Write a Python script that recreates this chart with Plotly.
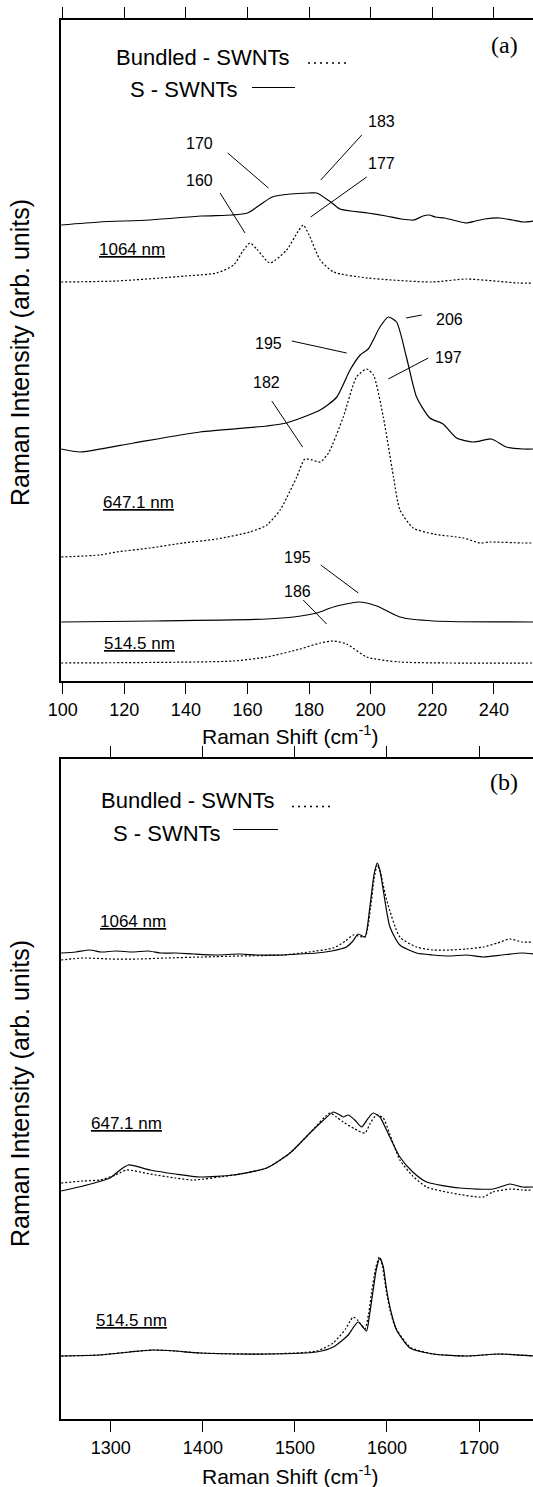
import plotly.graph_objects as go

W, H = 533, 1487

# ---------------- Panel (a): RBM region ----------------
a_x_ticks = [100, 120, 140, 160, 180, 200, 220, 240]

a1064_s_x = [99.5, 112, 128, 145, 155, 160, 164, 168, 174, 180, 182.5, 187, 190, 199, 205, 210, 214, 217, 219, 221, 224, 228, 231, 234, 237, 242, 246, 249.5, 253]
a1064_s_y = [456, 459, 461, 465, 466, 468, 476, 484, 487, 488, 488, 479, 472, 468, 465, 462, 461, 465, 466, 464, 463, 460, 458, 460, 462, 463, 461, 459, 460]

a1064_d_x = [99.5, 117.5, 140, 150, 155.5, 158.5, 160.8, 163, 167.3, 172.7, 176.5, 178.1, 180, 183.6, 188, 199, 220, 231, 248, 253]
a1064_d_y = [399, 400, 405, 408, 416, 430, 438, 432, 418, 431, 450, 456, 446, 421, 409, 403, 399, 402, 398, 398]

a647_s_x = [99.5, 105.7, 123, 144.6, 166.3, 172.7, 183.6, 189, 193.3, 196.6, 199.2, 203, 205.7, 208.4, 211.6, 214.9, 219.2, 223.5, 227.9, 233.3, 239.2, 244.1, 249.4, 253]
a647_s_y = [232, 229, 238, 249, 255, 258, 271, 284, 311, 326, 332, 354, 364, 359, 324, 284, 263, 257, 243, 239, 242, 234, 232, 232]

a647_d_x = [99.5, 112, 117.5, 128.3, 139.1, 150, 160.8, 166.3, 170.6, 172.7, 176, 178.6, 181, 183.6, 186.3, 191.1, 195.4, 198.7, 200.9, 204.1, 207.4, 209.5, 213.8, 220.4, 230.1, 235.5, 238.7, 249.4, 253]
a647_d_y = [124, 126, 129, 133, 138, 142, 149, 156, 171, 183, 204, 222, 221, 219, 228, 264, 304, 312, 306, 264, 204, 171, 153, 147, 143, 138, 139, 138, 138]

a514_s_x = [99.5, 130, 166.3, 175, 182.5, 187.9, 196.1, 202, 209.5, 220.4, 253]
a514_s_y = [59, 60, 62, 64, 68, 74, 79, 75, 64, 60, 59]

a514_d_x = [99.5, 155.4, 166.3, 177.1, 183.6, 187.9, 192.2, 198.7, 209.5, 253]
a514_d_y = [18, 20, 24, 32, 38, 40, 37, 24, 19, 18]

# peak labels (a): text, text position, leader line ends
a_peak_text = ["170", "183", "160", "177", "206", "195", "197", "182", "195", "186"]
a_peak_tx = [144.3, 203.6, 144.4, 203.6, 225.7, 166.8, 225.2, 166.2, 176.3, 176.3]
a_peak_ty = [538, 560, 501, 518, 362, 338, 324, 299, 124, 90]
a_lead_x0 = [153.6, 197.1, 151.1, 198.7, 211.5, 174.4, 218.7, 167.9, 183.8, 178.1]
a_lead_y0 = [528, 546, 488, 504, 363, 340, 323, 280, 116, 81]
a_lead_x1 = [166.8, 183.8, 159.2, 180.5, 216.6, 192.2, 205.7, 177.9, 196.0, 185.7]
a_lead_y1 = [493, 501, 448, 464, 366, 328, 302, 234, 88, 57]

# laser lines (a)
a_laser_text = ["1064 nm", "647.1 nm", "514.5 nm"]
a_laser_x = [122.6, 124.5, 124.8]
a_laser_y = [432, 179, 38]

# ---------------- Panel (b): G band region ----------------
b_x_ticks = [1300, 1400, 1500, 1600, 1700]

b1064_s_x = [1246, 1262, 1277, 1290, 1305, 1324, 1340, 1355, 1371, 1390, 1415, 1440, 1460, 1487, 1505, 1523.5, 1540, 1556, 1563, 1568.7, 1576, 1581.4, 1586, 1589.4, 1592.5, 1595.9, 1603.2, 1614, 1632, 1650, 1668, 1686, 1704.5, 1725, 1747, 1759]
b1064_s_y = [466, 467, 469, 467, 468, 467, 468, 466, 466, 465, 464, 465, 464, 464, 465, 466, 468, 472, 478, 485, 482, 512, 545, 556, 548, 529, 492, 474, 466, 464, 463, 464, 462, 464, 466, 465]

b1064_d_x = [1246, 1270, 1300, 1330, 1360, 1400, 1440, 1487, 1515, 1541.6, 1555, 1563.3, 1576, 1582, 1586, 1589.4, 1593, 1599.6, 1614, 1632, 1650, 1668, 1686, 1704.5, 1720, 1733.4, 1747, 1759]
b1064_d_y = [459, 461, 460, 460, 461, 462, 463, 464, 467, 471, 478, 484, 482, 510, 540, 554, 546, 519, 482, 472, 469, 469, 470, 472, 476, 480, 477, 477]

b647_s_x = [1246, 1270, 1299, 1310, 1319, 1342.6, 1370, 1396.9, 1433, 1469.3, 1494.6, 1516.3, 1530, 1541.6, 1547, 1552.4, 1557.9, 1565, 1572.4, 1579, 1585, 1592.3, 1600, 1614, 1628, 1643, 1679, 1715.3, 1733.4, 1747, 1759]
b647_s_y = [228, 233, 241, 249, 254, 249, 245, 242, 244, 251, 266, 286, 298, 307, 305, 302, 304, 299, 292, 300, 306, 302, 288, 262, 247, 237, 231, 230, 235, 232, 232]

b647_d_x = [1246, 1270, 1288.3, 1305, 1317.3, 1342.6, 1370, 1389.6, 1433, 1469.3, 1494.6, 1516.3, 1538, 1545, 1552.4, 1565, 1576, 1582, 1588.7, 1595.9, 1603, 1614, 1628, 1643, 1670, 1704.5, 1715, 1735, 1747, 1759]
b647_d_y = [236, 238, 239, 244, 249, 245, 241, 239, 244, 251, 266, 286, 306, 302, 297, 290, 286, 296, 304, 301, 285, 259, 243, 232, 226, 222, 227, 230, 229, 229]

b514_s_x = [1246, 1288, 1320, 1346, 1370, 1396.9, 1469.3, 1523.5, 1541.6, 1557.9, 1563, 1568.7, 1573, 1577.8, 1581, 1585, 1588.5, 1592.3, 1596, 1599.6, 1605, 1610.4, 1624.9, 1650.2, 1686.4, 1722.5, 1759]
b514_s_y = [63, 64, 67, 69, 68, 66, 65, 67, 72, 84, 91, 97, 93, 88, 104, 129, 150, 161, 152, 129, 105, 89, 71, 65, 63, 65, 63]

b514_d_x = [1246, 1288, 1320, 1346, 1370, 1396.9, 1469.3, 1523.5, 1541.6, 1555, 1560, 1563.3, 1568, 1576, 1580, 1583, 1587.5, 1591.6, 1595, 1598, 1603, 1609, 1624.9, 1650, 1686, 1722, 1759]
b514_d_y = [63, 64, 67, 69, 68, 66, 65, 68, 76, 90, 98, 102, 99, 90, 105, 125, 150, 162, 153, 135, 110, 92, 72, 65, 63, 65, 63]

b_laser_text = ["1064 nm", "647.1 nm", "514.5 nm"]
b_laser_x = [1324.1, 1317.3, 1322.7]
b_laser_y = [497, 296, 99]

legend_labels = ["Bundled - SWNTs", "S - SWNTs"]

# ---------------- figure ----------------
FONT = "Liberation Sans, Arial, sans-serif"
SERIF = "Liberation Serif, Times New Roman, serif"

def px(x):
    return x / W

def py(y):
    return 1 - y / H

fig = go.Figure()

def add(x, y, xa, ya, dash):
    fig.add_trace(go.Scatter(
        x=x, y=y, xaxis=xa, yaxis=ya, mode="lines",
        line=dict(color="black", width=1.2, dash=dash, shape="spline", smoothing=0.6),
        showlegend=False, hoverinfo="skip"))

DOT = "2px,2px"
add(a1064_s_x, a1064_s_y, "x", "y", "solid")
add(a1064_d_x, a1064_d_y, "x", "y", DOT)
add(a647_s_x, a647_s_y, "x", "y", "solid")
add(a647_d_x, a647_d_y, "x", "y", DOT)
add(a514_s_x, a514_s_y, "x", "y", "solid")
add(a514_d_x, a514_d_y, "x", "y", DOT)

add(b1064_s_x, b1064_s_y, "x2", "y2", "solid")
add(b1064_d_x, b1064_d_y, "x2", "y2", DOT)
add(b647_s_x, b647_s_y, "x2", "y2", "solid")
add(b647_d_x, b647_d_y, "x2", "y2", DOT)
add(b514_s_x, b514_s_y, "x2", "y2", "solid")
add(b514_d_x, b514_d_y, "x2", "y2", DOT)

annotations = []
shapes = []

def note(x, y, text, size, xref="paper", yref="paper", family=FONT, xanchor="center", angle=0):
    annotations.append(dict(x=x, y=y, xref=xref, yref=yref, text=text, showarrow=False,
                            xanchor=xanchor, yanchor="middle", textangle=angle,
                            font=dict(family=family, size=size, color="black")))

for t, tx, ty, x0, y0, x1, y1 in zip(a_peak_text, a_peak_tx, a_peak_ty, a_lead_x0, a_lead_y0, a_lead_x1, a_lead_y1):
    note(tx, ty, t, 16, "x", "y")
    shapes.append(dict(type="line", xref="x", yref="y", x0=x0, y0=y0, x1=x1, y1=y1,
                       line=dict(color="black", width=1)))

for t, x, y in zip(a_laser_text, a_laser_x, a_laser_y):
    note(x, y, "<u>" + t + "</u>", 17, "x", "y")
for t, x, y in zip(b_laser_text, b_laser_x, b_laser_y):
    note(x, y, "<u>" + t + "</u>", 17, "x2", "y2")

def legend(tx1, ty1, dx0, dx1, dy, tx2, ty2, sx0, sx1, sy):
    note(px(tx1), py(ty1), legend_labels[0], 22, xanchor="left")
    note(px(tx2), py(ty2), legend_labels[1], 22, xanchor="left")
    shapes.append(dict(type="line", xref="paper", yref="paper", x0=px(dx0), x1=px(dx1), y0=py(dy), y1=py(dy),
                       line=dict(color="black", width=1.5, dash="2px,4px")))
    shapes.append(dict(type="line", xref="paper", yref="paper", x0=px(sx0), x1=px(sx1), y0=py(sy), y1=py(sy),
                       line=dict(color="black", width=1.2)))

legend(114, 57, 308, 348, 63, 128, 89.5, 252, 295, 87.5)
legend(99, 800, 292, 332, 806.5, 111, 833, 233, 278, 829.5)

note(px(504), py(45), "(a)", 24, family=SERIF)
note(px(504), py(782), "(b)", 24, family=SERIF)

for yc in (353, 1094):
    note(px(20), py(yc), "Raman Intensity (arb. units)", 25, angle=-90)
for yc in (735, 1475):
    note(px(290), py(yc), "Raman Shift (cm<sup>-1</sup>)", 21)

xcommon = dict(showline=True, linecolor="black", linewidth=2, mirror="ticks", ticks="outside",
               ticklen=11, tickwidth=1.2, tickcolor="black", showgrid=False, zeroline=False,
               automargin=False, tickfont=dict(family=FONT, size=18, color="black"))
ycommon = dict(showline=True, linecolor="black", linewidth=2, showticklabels=False, ticks="",
               showgrid=False, zeroline=False, automargin=False)

fig.update_layout(
    width=W, height=H, margin=dict(l=0, r=0, t=0, b=0, pad=0, autoexpand=False),
    paper_bgcolor="white", plot_bgcolor="white",
    xaxis=dict(domain=[px(61), 1], range=[99.45, 252.7], anchor="y", tickvals=a_x_ticks, **xcommon),
    yaxis=dict(domain=[py(681), py(20)], range=[0, 661], anchor="x", **ycommon),
    xaxis2=dict(domain=[px(61), 1], range=[1245.9, 1758.6], anchor="y2", tickvals=b_x_ticks, **xcommon),
    yaxis2=dict(domain=[py(1419), py(759)], range=[0, 660], anchor="x2", **ycommon),
    annotations=annotations, shapes=shapes,
)

fig.write_html("out.html", config={"displayModeBar": False},
               post_script="document.body.style.margin='0px';document.body.style.overflow='hidden';")
